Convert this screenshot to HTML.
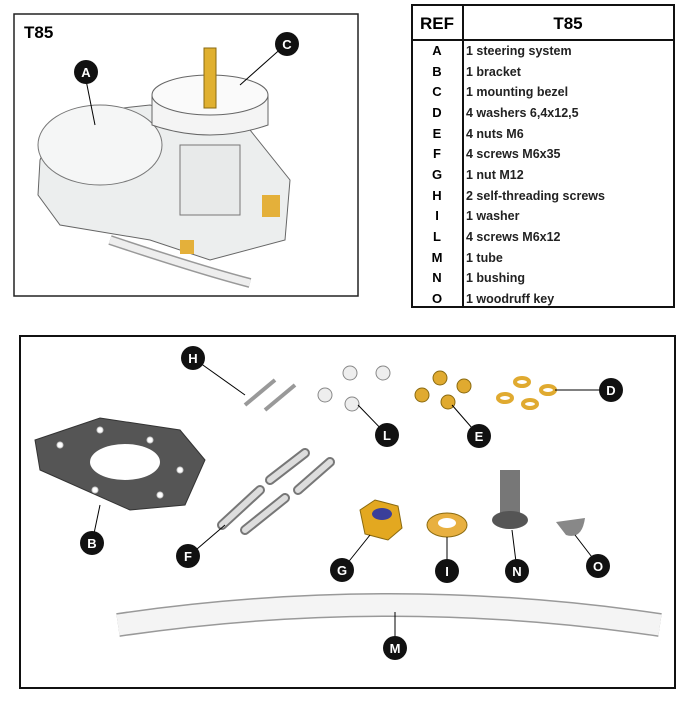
<!DOCTYPE html>
<html><head><style>
body{margin:0;background:#fff;width:694px;height:703px;overflow:hidden}
svg{display:block}
text{font-family:"Liberation Sans",sans-serif}
</style></head><body>
<svg width="694" height="703" viewBox="0 0 694 703" xmlns="http://www.w3.org/2000/svg">
<rect x="14" y="14" width="344" height="282" fill="#fff" stroke="#222" stroke-width="1.5"/>
<text x="24" y="38" font-size="17" font-weight="bold">T85</text>
<path d="M40 160 L60 115 L150 105 L250 130 L290 180 L285 240 L210 260 L150 240 L60 225 L38 195 Z" fill="#eceeee" stroke="#666"/>
<ellipse cx="100" cy="145" rx="62" ry="40" fill="#f5f6f6" stroke="#777"/>
<path d="M110 240 Q200 270 250 283" stroke="#999" stroke-width="10" fill="none"/>
<path d="M110 240 Q200 270 250 283" stroke="#eee" stroke-width="7" fill="none"/>
<rect x="180" y="145" width="60" height="70" fill="#e8eaea" stroke="#777"/>
<path d="M152 95 L152 125 Q210 145 268 125 L268 95 Z" fill="#f4f4f4" stroke="#666"/>
<ellipse cx="210" cy="95" rx="58" ry="20" fill="#fafafa" stroke="#666"/>
<rect x="204" y="48" width="12" height="60" fill="#e0b030" stroke="#8a6a10"/>
<rect x="262" y="195" width="18" height="22" fill="#e4b03a"/>
<rect x="180" y="240" width="14" height="14" fill="#e4b03a"/>
<line x1="86" y1="80" x2="95" y2="125" stroke="#000"/>
<line x1="285" y1="45" x2="240" y2="85" stroke="#000"/>
<circle cx="86" cy="72" r="12" fill="#111"/><text x="86" y="77" font-size="13" font-weight="bold" fill="#fff" text-anchor="middle">A</text>
<circle cx="287" cy="44" r="12" fill="#111"/><text x="287" y="49" font-size="13" font-weight="bold" fill="#fff" text-anchor="middle">C</text>

<rect x="412" y="5" width="262" height="302" fill="#fff" stroke="#111" stroke-width="2"/>
<line x1="412" y1="40" x2="674" y2="40" stroke="#111" stroke-width="2"/>
<line x1="463" y1="5" x2="463" y2="307" stroke="#111" stroke-width="2"/>
<text x="437" y="29" font-size="17" font-weight="bold" text-anchor="middle">REF</text>
<text x="568" y="29" font-size="17" font-weight="bold" text-anchor="middle">T85</text>
<g font-size="13" font-weight="bold" text-anchor="middle">
<text x="437" y="55">A</text><text x="437" y="76">B</text><text x="437" y="96">C</text><text x="437" y="117">D</text><text x="437" y="138">E</text><text x="437" y="158">F</text><text x="437" y="179">G</text><text x="437" y="200">H</text><text x="437" y="220">I</text><text x="437" y="241">L</text><text x="437" y="262">M</text><text x="437" y="282">N</text><text x="437" y="303">O</text>
</g>
<g font-size="12.5" font-weight="bold" fill="#222">
<text x="466" y="55">1 steering system</text><text x="466" y="76">1 bracket</text><text x="466" y="96">1 mounting bezel</text><text x="466" y="117">4 washers 6,4x12,5</text><text x="466" y="138">4 nuts M6</text><text x="466" y="158">4 screws M6x35</text><text x="466" y="179">1 nut M12</text><text x="466" y="200">2 self-threading screws</text><text x="466" y="220">1 washer</text><text x="466" y="241">4 screws M6x12</text><text x="466" y="262">1 tube</text><text x="466" y="282">1 bushing</text><text x="466" y="303">1 woodruff key</text>
</g>

<rect x="20" y="336" width="655" height="352" fill="#fff" stroke="#111" stroke-width="2"/>
<path d="M35 440 L100 418 L180 430 L205 460 L185 505 L130 510 L40 470 Z" fill="#555" stroke="#333"/>
<ellipse cx="125" cy="462" rx="35" ry="18" fill="#fff"/>
<g fill="#fff" stroke="#ccc"><circle cx="60" cy="445" r="3"/><circle cx="100" cy="430" r="3"/><circle cx="150" cy="440" r="3"/><circle cx="180" cy="470" r="3"/><circle cx="160" cy="495" r="3"/><circle cx="95" cy="490" r="3"/></g>
<g stroke="#777" stroke-width="10" stroke-linecap="round"><line x1="222" y1="525" x2="260" y2="490"/><line x1="245" y1="530" x2="285" y2="498"/><line x1="270" y1="480" x2="305" y2="453"/><line x1="298" y1="490" x2="330" y2="462"/></g>
<g stroke="#ddd" stroke-width="6" stroke-linecap="round"><line x1="222" y1="525" x2="260" y2="490"/><line x1="245" y1="530" x2="285" y2="498"/><line x1="270" y1="480" x2="305" y2="453"/><line x1="298" y1="490" x2="330" y2="462"/></g>
<g stroke="#999" stroke-width="4"><line x1="245" y1="405" x2="275" y2="380"/><line x1="265" y1="410" x2="295" y2="385"/></g>
<g fill="#eee" stroke="#888"><circle cx="325" cy="395" r="7"/><circle cx="352" cy="404" r="7"/><circle cx="350" cy="373" r="7"/><circle cx="383" cy="373" r="7"/></g>
<g fill="#e0aa30" stroke="#8a6a10"><circle cx="422" cy="395" r="7"/><circle cx="440" cy="378" r="7"/><circle cx="464" cy="386" r="7"/><circle cx="448" cy="402" r="7"/></g>
<g fill="none" stroke="#e0aa30" stroke-width="4"><ellipse cx="505" cy="398" rx="7" ry="4"/><ellipse cx="522" cy="382" rx="7" ry="4"/><ellipse cx="530" cy="404" rx="7" ry="4"/><ellipse cx="548" cy="390" rx="7" ry="4"/></g>
<path d="M360 510 L375 500 L398 506 L402 528 L388 540 L365 534 Z" fill="#e3a820" stroke="#8a6a10"/>
<ellipse cx="382" cy="514" rx="10" ry="6" fill="#3a3f9a"/>
<ellipse cx="447" cy="525" rx="20" ry="12" fill="#e8b040" stroke="#8a6a10"/>
<ellipse cx="447" cy="523" rx="9" ry="5" fill="#fff"/>
<rect x="500" y="470" width="20" height="45" fill="#777"/>
<ellipse cx="510" cy="520" rx="18" ry="9" fill="#555"/>
<path d="M556 522 L585 518 Q582 540 566 535 Z" fill="#888"/>
<path d="M118 625 Q390 585 660 625" stroke="#999" stroke-width="24" fill="none"/>
<path d="M118 625 Q390 585 660 625" stroke="#f4f4f4" stroke-width="21" fill="none"/>
<g stroke="#000" stroke-width="1">
<line x1="193" y1="358" x2="245" y2="395"/><line x1="387" y1="435" x2="358" y2="405"/><line x1="479" y1="436" x2="452" y2="405"/><line x1="610" y1="390" x2="555" y2="390"/>
<line x1="92" y1="543" x2="100" y2="505"/><line x1="190" y1="555" x2="225" y2="525"/><line x1="342" y1="570" x2="370" y2="535"/><line x1="447" y1="570" x2="447" y2="537"/><line x1="517" y1="570" x2="512" y2="530"/><line x1="598" y1="565" x2="575" y2="535"/><line x1="395" y1="648" x2="395" y2="612"/>
</g>
<g font-size="13" font-weight="bold" fill="#fff" text-anchor="middle">
<circle cx="193" cy="358" r="12" fill="#111"/><text x="193" y="363">H</text>
<circle cx="387" cy="435" r="12" fill="#111"/><text x="387" y="440">L</text>
<circle cx="479" cy="436" r="12" fill="#111"/><text x="479" y="441">E</text>
<circle cx="611" cy="390" r="12" fill="#111"/><text x="611" y="395">D</text>
<circle cx="92" cy="543" r="12" fill="#111"/><text x="92" y="548">B</text>
<circle cx="188" cy="556" r="12" fill="#111"/><text x="188" y="561">F</text>
<circle cx="342" cy="570" r="12" fill="#111"/><text x="342" y="575">G</text>
<circle cx="447" cy="571" r="12" fill="#111"/><text x="447" y="576">I</text>
<circle cx="517" cy="571" r="12" fill="#111"/><text x="517" y="576">N</text>
<circle cx="598" cy="566" r="12" fill="#111"/><text x="598" y="571">O</text>
<circle cx="395" cy="648" r="12" fill="#111"/><text x="395" y="653">M</text>
</g>
</svg>
</body></html>
